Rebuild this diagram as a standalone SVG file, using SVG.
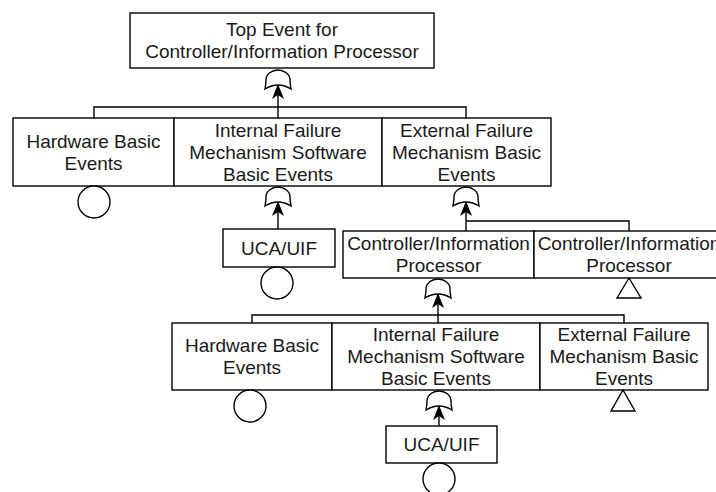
<svg xmlns="http://www.w3.org/2000/svg" width="716" height="492" viewBox="0 0 716 492">
<style>
.box{fill:#fff;stroke:#000;stroke-width:1.4}
.sym{fill:#fff;stroke:#000;stroke-width:1.4}
.ln{fill:none;stroke:#000;stroke-width:1.4}
text{font-family:"Liberation Sans",Arial,sans-serif;font-size:19px;fill:#1a1a1a;text-anchor:middle}
</style>
<defs>
<marker id="arr" markerUnits="userSpaceOnUse" viewBox="-16 -7 17 14" refX="0" refY="0" markerWidth="17" markerHeight="14" orient="auto">
<path d="M0,0 L-15,-6 L-11,0 L-15,6 Z" fill="#000"/>
</marker>
<path id="orgate" d="M-13,19 Q-12,14 -12,10 C-12,4 -6,0 0,0 C6,0 12,4 12,10 Q12,14 13,19 Q0,11 -13,19 Z"/>
</defs>
<rect width="716" height="492" fill="#fff"/>

<g id="connectors">
<path class="ln" d="M94,118 V107 H466 V118"/>
<path class="ln" d="M466,221 H629 V231"/>
<path class="ln" d="M252,323 V315 H624 V323"/>
<line class="ln" x1="278" y1="118" x2="278" y2="84" marker-end="url(#arr)"/>
<line class="ln" x1="278" y1="229" x2="278" y2="201" marker-end="url(#arr)"/>
<line class="ln" x1="466" y1="231" x2="466" y2="201" marker-end="url(#arr)"/>
<line class="ln" x1="438" y1="323" x2="438" y2="293" marker-end="url(#arr)"/>
<line class="ln" x1="439" y1="426" x2="439" y2="405" marker-end="url(#arr)"/>
</g>

<g id="gates">
<use href="#orgate" class="sym" x="278" y="70"/>
<use href="#orgate" class="sym" x="278" y="187"/>
<use href="#orgate" class="sym" x="466" y="187"/>
<use href="#orgate" class="sym" x="438" y="279"/>
<use href="#orgate" class="sym" x="439" y="391"/>
</g>

<g id="top">
<rect class="box" x="130" y="13" width="304" height="55"/>
<text x="282" y="36">Top Event for</text>
<text x="282" y="58">Controller/Information Processor</text>
</g>

<g id="hw1">
<rect class="box" x="13" y="118" width="161" height="68"/>
<text x="93.5" y="148">Hardware Basic</text>
<text x="93.5" y="170">Events</text>
<circle class="sym" cx="94" cy="202" r="16"/>
</g>

<g id="int1">
<rect class="box" x="174" y="118" width="208" height="68"/>
<text x="278" y="137">Internal Failure</text>
<text x="278" y="159">Mechanism Software</text>
<text x="278" y="181">Basic Events</text>
</g>

<g id="ext1">
<rect class="box" x="382" y="118" width="169" height="68"/>
<text x="466.5" y="137">External Failure</text>
<text x="466.5" y="159">Mechanism Basic</text>
<text x="466.5" y="181">Events</text>
</g>

<g id="uca1">
<rect class="box" x="223" y="229" width="112" height="38"/>
<text x="279" y="255">UCA/UIF</text>
<circle class="sym" cx="277" cy="283" r="16"/>
</g>

<g id="cip1">
<rect class="box" x="343" y="231" width="191" height="47"/>
<text x="438.5" y="250">Controller/Information</text>
<text x="438.5" y="272">Processor</text>
</g>

<g id="cip2">
<rect class="box" x="534" y="231" width="190" height="47"/>
<text x="629" y="250">Controller/Information</text>
<text x="629" y="272">Processor</text>
<path class="sym" d="M629,278 L641,298 L617,298 Z"/>
</g>

<g id="hw2">
<rect class="box" x="172" y="323" width="160" height="67"/>
<text x="252" y="352">Hardware Basic</text>
<text x="252" y="374">Events</text>
<circle class="sym" cx="250" cy="406" r="16"/>
</g>

<g id="int2">
<rect class="box" x="332" y="323" width="208" height="67"/>
<text x="436" y="341">Internal Failure</text>
<text x="436" y="363">Mechanism Software</text>
<text x="436" y="385">Basic Events</text>
</g>

<g id="ext2">
<rect class="box" x="540" y="323" width="168" height="67"/>
<text x="624" y="341">External Failure</text>
<text x="624" y="363">Mechanism Basic</text>
<text x="624" y="385">Events</text>
<path class="sym" d="M623,390 L635,411 L611,411 Z"/>
</g>

<g id="uca2">
<rect class="box" x="386" y="426" width="111" height="37"/>
<text x="441.5" y="451">UCA/UIF</text>
<circle class="sym" cx="439" cy="479" r="16"/>
</g>
</svg>
